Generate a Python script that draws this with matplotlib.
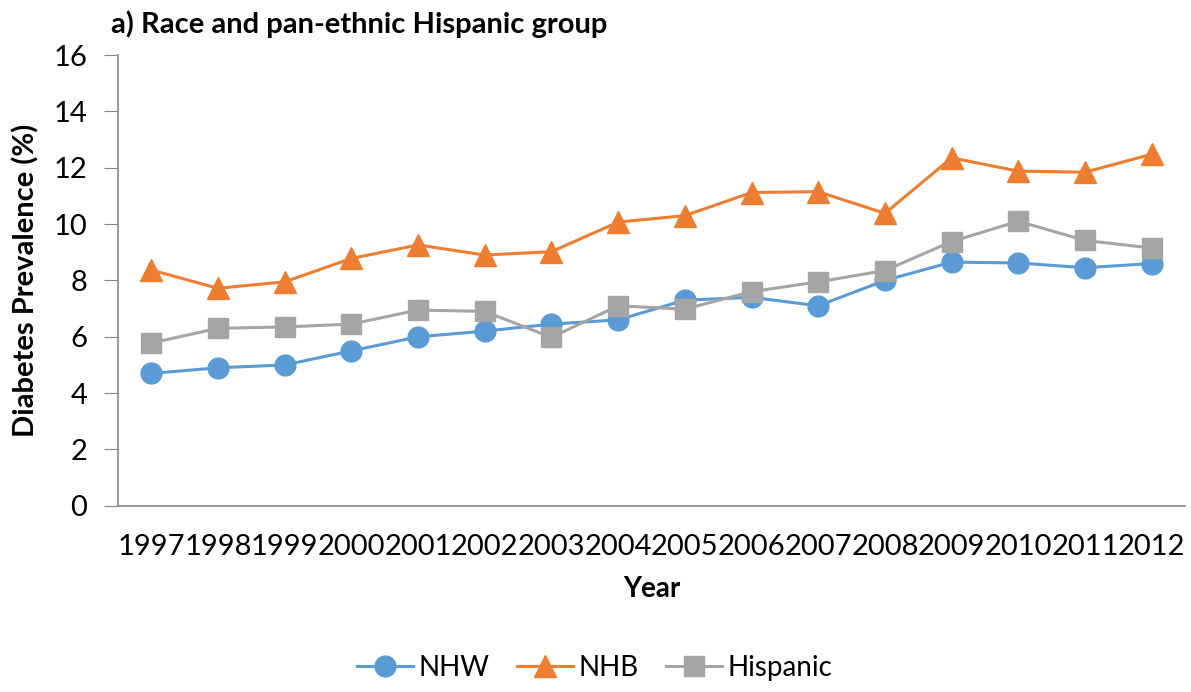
import numpy as np
import matplotlib
matplotlib.use("Agg")
import matplotlib.pyplot as plt

plt.rcParams['font.family'] = ['Lato', 'DejaVu Sans']

years = ['1997', '1998', '1999', '2000', '2001', '2002', '2003', '2004',
         '2005', '2006', '2007', '2008', '2009', '2010', '2011', '2012']
nhw = [4.7, 4.9, 5.0, 5.5, 6.0, 6.2, 6.45, 6.6,
       7.3, 7.4, 7.1, 8.0, 8.65, 8.62, 8.45, 8.6]
nhb = [8.37, 7.72, 7.95, 8.78, 9.26, 8.9, 9.02, 10.07,
       10.3, 11.12, 11.15, 10.38, 12.35, 11.88, 11.84, 12.48]
hispanic = [5.78, 6.3, 6.35, 6.45, 6.95, 6.9, 5.98, 7.1,
            6.98, 7.6, 7.95, 8.35, 9.38, 10.1, 9.42, 9.15]

# -------------------------------------------------------------------- #
fig = plt.figure(figsize=(11.91, 6.92), dpi=100)
ax = fig.add_axes([0.099, 0.269, 0.896, 0.6515])

x = np.arange(len(years))
ax.plot(x, nhw, color='#5b9bd5', lw=2.2, marker='o', ms=15, label='NHW')
ax.plot(x, nhb, color='#ed7d31', lw=2.2, marker='^', ms=16, label='NHB')
ax.plot(x, hispanic, color='#a5a5a5', lw=2.2, marker='s', ms=14, label='Hispanic')

ax.set_xlim(-0.5, len(years) - 0.5)
ax.set_ylim(0, 16)
ax.set_yticks(np.arange(0, 17, 2))
ax.set_xticks(x)
ax.set_xticklabels(years)

for s in ['top', 'right']:
    ax.spines[s].set_visible(False)
for s in ['left', 'bottom']:
    ax.spines[s].set_color('#868686')
    ax.spines[s].set_linewidth(1.2)

ax.tick_params(axis='y', direction='out', length=10, color='#868686',
               labelsize=21, pad=12)
ax.tick_params(axis='x', length=0, labelsize=21, pad=20)

ax.set_xlabel('Year', fontsize=20, fontweight='bold', labelpad=12)
ax.set_ylabel('Diabetes Prevalence (%)', fontsize=21, fontweight='bold', labelpad=10)
fig.text(0.093, 0.953, 'a) Race and pan-ethnic Hispanic group',
         fontsize=21, fontweight='bold')

ax.legend(loc='center', bbox_to_anchor=(0.447, -0.36), ncol=3,
          frameon=False, fontsize=20, handlelength=2.0, columnspacing=1.0,
          handletextpad=0.2)

fig.savefig('out.png', dpi=100)
